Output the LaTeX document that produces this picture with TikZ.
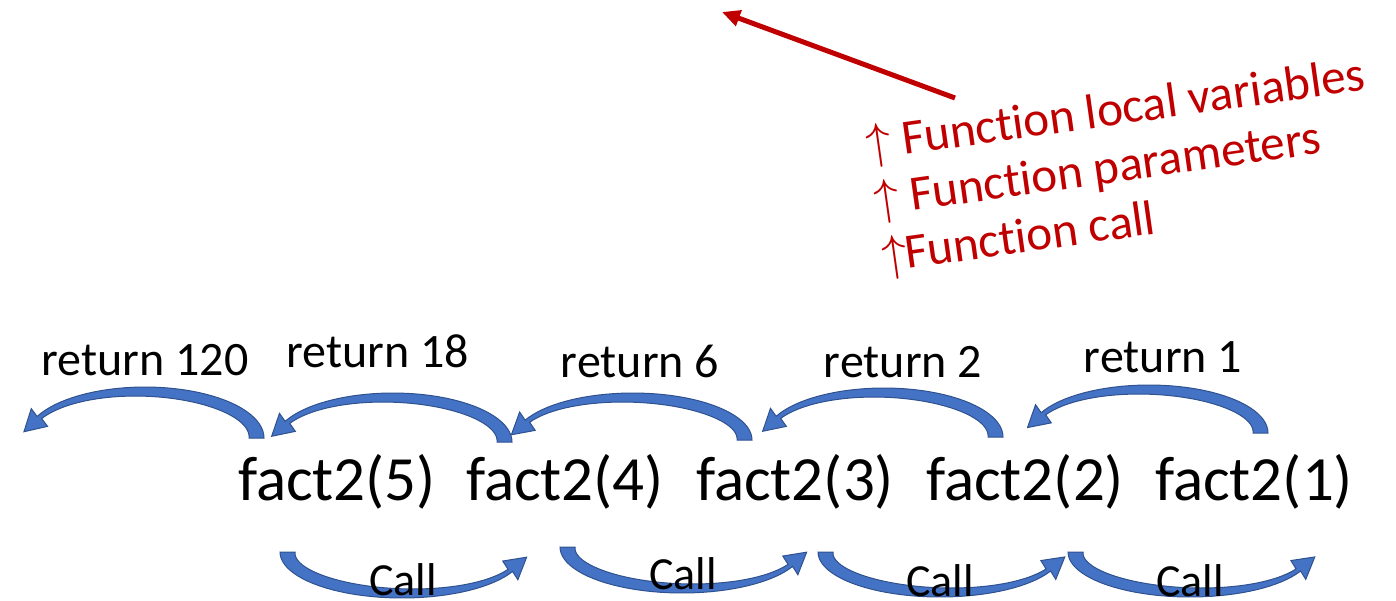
\documentclass[tikz,border=0pt]{standalone}
\usepackage{fontspec}
\setmainfont{Carlito}[Ligatures={NoCommon,NoContextual}]
\usetikzlibrary{arrows.meta}

\definecolor{callblue}{HTML}{4472C4}
\definecolor{calledge}{HTML}{2F528F}
\definecolor{notered}{HTML}{C00000}

% thick tapering curved arrow: centre x, centre y, x radius, y radius, x sign, y sign
\newcommand{\bentarrow}[6]{%
  \pgfmathsetmacro\bC{cos(155)}
  \pgfmathsetmacro\bS{sin(155)}
  \pgfmathsetmacro\bMx{#1+(#5)*(#3-2.5)*\bC}
  \pgfmathsetmacro\bMy{#2-(#6)*(#4-2.5)*\bS}
  \pgfmathsetmacro\bDx{-(#5)*#3*\bS}
  \pgfmathsetmacro\bDy{-(#6)*#4*\bC}
  \pgfmathsetmacro\bDl{veclen(\bDx,\bDy)}
  \pgfmathsetmacro\bNx{(#5)*#4*\bC}
  \pgfmathsetmacro\bNy{-(#6)*#3*\bS}
  \pgfmathsetmacro\bNl{veclen(\bNx,\bNy)}
  \filldraw[curve]
    plot[domain=0:155,samples=40] ({#1+(#5)*#3*cos(\x)},{#2-(#6)*#4*sin(\x)})
    -- ({\bMx+12*\bNx/\bNl},{\bMy+12*\bNy/\bNl})
    -- ({\bMx+21*\bDx/\bDl},{\bMy+21*\bDy/\bDl})
    -- ({\bMx-12*\bNx/\bNl},{\bMy-12*\bNy/\bNl})
    -- plot[domain=155:0,samples=40] ({#1+(#5)*(#3-15+10*\x/155)*cos(\x)},{#2-(#6)*(#4-15+10*\x/155)*sin(\x)})
    -- cycle;
}

\begin{document}
\begin{tikzpicture}[
  x=0.5pt, y=-0.5pt,
  factlabel/.style={font=\fontsize{31.5}{36}\selectfont, inner sep=0pt, anchor=base},
  retlabel/.style={font=\fontsize{24}{28}\selectfont, inner sep=0pt, anchor=base},
  calllabel/.style={font=\fontsize{23}{27}\selectfont, inner sep=0pt, anchor=base},
  notelabel/.style={font=\fontsize{24.6}{28}\selectfont, text=notered, inner sep=0pt, anchor=base west, rotate=8},
  curve/.style={fill=callblue, draw=calledge, line width=0.5pt},
  pointer/.style={-{Triangle[length=9pt,width=8pt]}, draw=notered, line width=2.5pt}
]
\useasboundingbox (0,0) rectangle (1396,600);

% Return arrows
\bentarrow{145}{438}{119}{51}{1}{1}
\bentarrow{393}{442}{119}{49}{1}{1}
\bentarrow{633}{440}{119}{47}{1}{1}
\bentarrow{884}{437}{119}{49}{1}{1}
\bentarrow{1149}{433}{119}{48}{1}{1}

% Call arrows
\bentarrow{402}{552}{122}{46}{-1}{-1}
\bentarrow{682}{547}{122}{46}{-1}{-1}
\bentarrow{940}{552}{122}{45}{-1}{-1}
\bentarrow{1190}{552}{122}{45}{-1}{-1}

% Recursive calls
\node[factlabel] (f5) at (337,500) {fact2(5)};
\node[factlabel] (f4) at (565,500) {fact2(4)};
\node[factlabel] (f3) at (795,500) {fact2(3)};
\node[factlabel] (f2) at (1025,500) {fact2(2)};
\node[factlabel] (f1) at (1254,500) {fact2(1)};

% Return values
\node[retlabel] (r120) at (145,375) {return 120};
\node[retlabel] (r18) at (378,367) {return 18};
\node[retlabel] (r6) at (640,377) {return 6};
\node[retlabel] (r2) at (903,377) {return 2};
\node[retlabel] (r1) at (1163,372) {return 1};

% Call labels
\node[calllabel] (c54) at (403,595) {Call};
\node[calllabel] (c43) at (683,589) {Call};
\node[calllabel] (c32) at (940,596) {Call};
\node[calllabel] (c21) at (1190,596) {Call};

% Stack frame notes
\node[notelabel] (nvars) at (868,160) {$\uparrow$ Function local variables};
\node[notelabel] (nparams) at (876,216) {$\uparrow$ Function parameters};
\node[notelabel] (ncall) at (884,272) {$\uparrow$\kern-1pt Function call};

\coordinate (ptail) at (955,98);
\coordinate (phead) at (722,12);
\draw[pointer] (ptail) -- (phead);

\end{tikzpicture}
\end{document}
